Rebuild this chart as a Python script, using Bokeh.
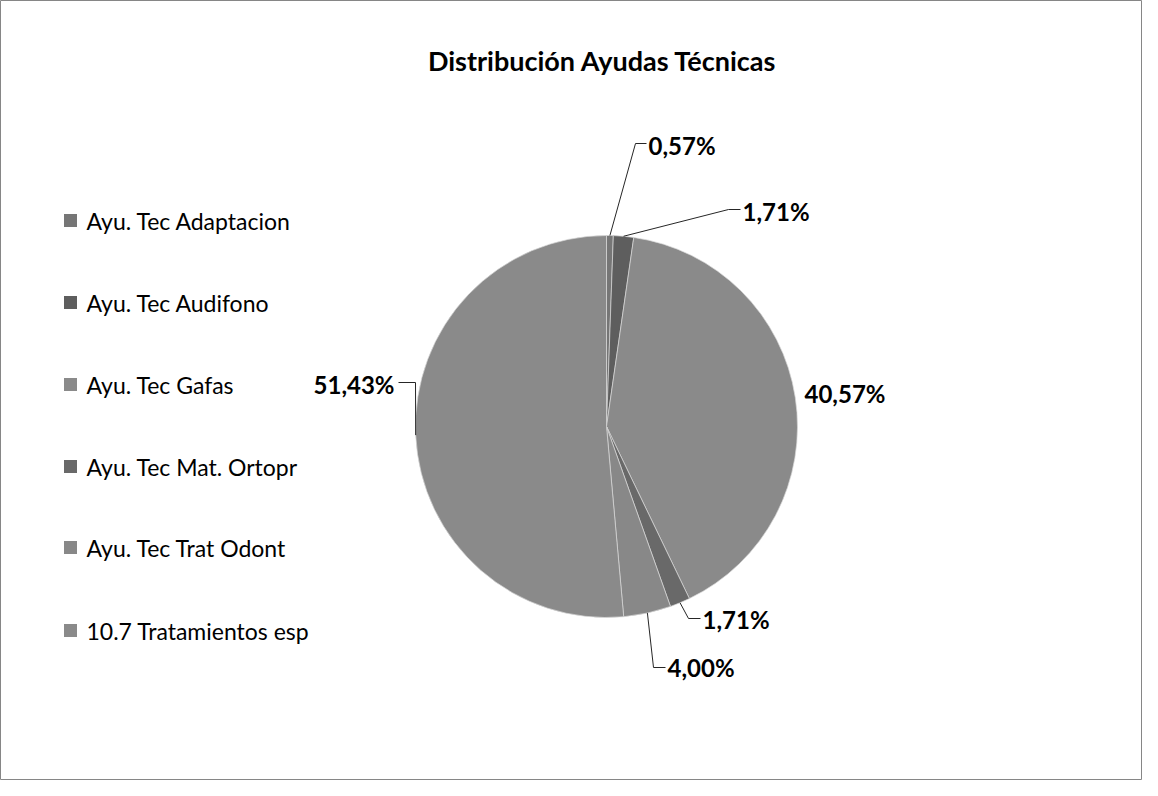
import numpy as np
from bokeh.plotting import figure
from bokeh.models import Range1d, ColumnDataSource
from bokeh.core.properties import value
from bokeh.embed import file_html
from bokeh.resources import INLINE

# ---- data ----
categories = ["Ayu. Tec Adaptacion", "Ayu. Tec Audifono", "Ayu. Tec Gafas",
              "Ayu. Tec Mat. Ortopr", "Ayu. Tec Trat Odont", "10.7 Tratamientos esp"]
percentages = [0.57, 1.71, 40.57, 1.71, 4.00, 51.43]
labels = ["0,57%", "1,71%", "40,57%", "1,71%", "4,00%", "51,43%"]
colors = ["#767676", "#5e5e5e", "#8a8a8a", "#696969", "#888888", "#8a8a8a"]
title = "Distribución Ayudas Técnicas"

# ---- layout (image pixel coordinates, y downward -> data y = -pixel) ----
FONT = "Lato"
W, H = 1142, 780
cx, cy, r = 606, -426, 191

p = figure(width=W, height=H, output_backend="svg", toolbar_location=None,
           x_range=Range1d(0, W), y_range=Range1d(-H, 0),
           min_border=0, outline_line_color="#868686", outline_line_width=1)
p.axis.visible = False
p.grid.visible = False
p.background_fill_color = "white"
p.border_fill_color = "white"

vals = np.array(percentages) / sum(percentages)
cum = np.concatenate([[0], np.cumsum(vals)])
start = np.pi / 2 - cum[:-1] * 2 * np.pi
end = np.pi / 2 - cum[1:] * 2 * np.pi
src = ColumnDataSource(dict(start=start, end=end, color=colors))
p.wedge(x=cx, y=cy, radius=r, start_angle="start", end_angle="end", direction="clock",
        fill_color="color", line_color="#d9d9d9", line_width=0.7, source=src)

# leader lines and data labels
mid = (cum[:-1] + cum[1:]) / 2 * 2 * np.pi
ax = cx + r * np.sin(mid)
ay = cy + r * np.cos(mid)
elbow = [(635, -143), (728, -209), None, (688, -618), (653, -667), (415, -382)]
lend = [(646, -143), (740, -209), None, (700, -618), (665, -667), (398, -382)]
txt = [(648, -145, "left"), (742, -211, "left"), (804, -393, "left"),
       (702, -619, "left"), (667, -667, "left"), (394, -384, "right")]
for i in range(len(labels)):
    if elbow[i] is not None:
        p.line([ax[i], elbow[i][0], lend[i][0]], [ay[i], elbow[i][1], lend[i][1]],
               line_color="#262626", line_width=1)
    p.text(x=[txt[i][0]], y=[txt[i][1]], text=[labels[i]], text_align=txt[i][2],
           text_baseline="middle", text_font=value(FONT), text_font_style="bold",
           text_font_size="24px", text_color="#000000")

# title
p.text(x=[602], y=[-60], text=[title], text_align="center", text_baseline="middle",
       text_font=value(FONT), text_font_style="bold", text_font_size="27px",
       text_color="#000000")

# legend
ly = [-220, -302, -384, -466, -547, -630]
p.scatter(x=[70] * 6, y=ly, marker="square", size=13, fill_color=colors, line_color=None)
p.text(x=[86] * 6, y=ly, text=categories, text_baseline="middle", text_font=value(FONT),
       text_font_size="23px", text_color="#000000")

open("out.html", "w").write(file_html(p, INLINE))
